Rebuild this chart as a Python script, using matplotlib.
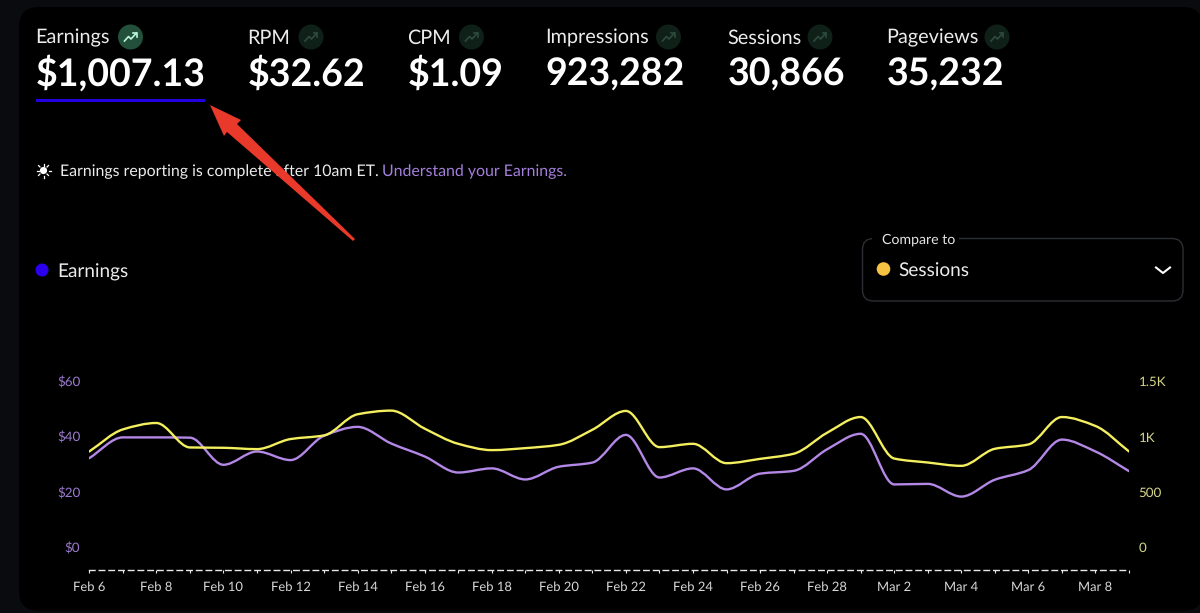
import matplotlib
matplotlib.use("Agg")
import matplotlib.pyplot as plt
from matplotlib.patches import Circle, FancyBboxPatch, PathPatch, Polygon, Rectangle
from matplotlib.path import Path
from matplotlib.transforms import ScaledTranslation
import numpy as np

plt.rcParams['font.family'] = ['Lato', 'Open Sans', 'DejaVu Sans']
plt.rcParams['text.hinting'] = 'none'

# tiles along the top
tile_names = ['Earnings', 'RPM', 'CPM', 'Impressions', 'Sessions', 'Pageviews']
tile_values = ['$1,007.13', '$32.62', '$1.09', '923,282', '30,866', '35,232']

# one point per day, Feb 6 to Mar 9
days = list(range(32))
earnings = [32.3, 39.8, 39.8, 39.7, 29.9, 34.7, 31.6, 40.4, 43.6, 37.6, 32.9, 27.1,
            28.6, 24.6, 29.2, 30.7, 40.7, 25.3, 28.6, 21.0, 26.7, 27.7, 35.5, 41.1,
            22.8, 23.0, 18.4, 24.5, 28.0, 39.0, 34.7, 27.6]
sessions = [868, 1067, 1125, 904, 901, 889, 980, 1013, 1204, 1237, 1074, 937,
            880, 898, 928, 1064, 1234, 907, 937, 762, 801, 847, 1037, 1179,
            804, 768, 738, 892, 931, 1179, 1098, 868]
date_labels = ['Feb 6', 'Feb 8', 'Feb 10', 'Feb 12', 'Feb 14', 'Feb 16', 'Feb 18', 'Feb 20',
               'Feb 22', 'Feb 24', 'Feb 26', 'Feb 28', 'Mar 2', 'Mar 4', 'Mar 6', 'Mar 8']
left_ticks = [0, 20, 40, 60]
left_labels = ['$0', '$20', '$40', '$60']
right_ticks = [0, 500, 1000, 1500]
right_labels = ['0', '500', '1K', '1.5K']


def smooth_path(x, y):
    # monotone cubic through the points, same look as the web chart
    x = np.array(x, dtype=float)
    y = np.array(y, dtype=float)
    d = np.diff(y) / np.diff(x)
    m = np.zeros(len(y))
    m[0] = d[0]
    m[-1] = d[-1]
    for i in range(1, len(y) - 1):
        if d[i - 1] * d[i] > 0:
            m[i] = 2 * d[i - 1] * d[i] / (d[i - 1] + d[i])
    verts = [(x[0], y[0])]
    codes = [Path.MOVETO]
    for i in range(len(x) - 1):
        h = (x[i + 1] - x[i]) / 3
        verts += [(x[i] + h, y[i] + m[i] * h), (x[i + 1] - h, y[i + 1] - m[i + 1] * h), (x[i + 1], y[i + 1])]
        codes += [Path.CURVE4] * 3
    return Path(verts, codes)


W, H = 1200, 613
fig = plt.figure(figsize=(12, 6.13), dpi=100, facecolor='#0a0b0e')

# overlay in pixel coords for the page bits
bg = fig.add_axes([0, 0, 1, 1])
bg.set_xlim(0, W)
bg.set_ylim(H, 0)
bg.axis('off')
bg.add_patch(FancyBboxPatch((19, 7), 1184, 604, boxstyle='round,pad=0,rounding_size=20', fc='black', ec='none'))

tile_x = [35.5, 247.5, 407.5, 545.5, 727.5, 886.5]
icon_x = [130.5, 311, 471.5, 668.5, 820, 997]
for i in range(6):
    bg.text(tile_x[i], 43.5, tile_names[i], color='#ececec', fontsize=14.3, va='baseline', ha='left')
    bg.text(tile_x[i], 86, tile_values[i], color='white', fontsize=27, fontweight='bold', va='baseline', ha='left')
    on = i == 0
    cx = icon_x[i]
    bg.add_patch(Circle((cx, 37), 12.5, fc='#23503b' if on else '#0f2019', ec='none'))
    ic = '#bdf5dc' if on else '#2f4a3e'
    bg.plot([cx - 6, cx - 2, cx + 0.5, cx + 6], [41, 36.5, 39, 33], color=ic, lw=1.2)
    bg.plot([cx + 2.5, cx + 6, cx + 6], [33, 33, 36.5], color=ic, lw=1.2)

bg.add_patch(Rectangle((36, 99), 169, 2.6, fc='#2200dd', ec='none'))

# sun icon
bg.add_patch(Circle((43.5, 170.5), 3.6, fc='white', ec='none'))
for a in np.arange(0, 360, 45):
    c, s = np.cos(np.radians(a)), np.sin(np.radians(a))
    bg.plot([43.5 + 5 * c, 43.5 + 7 * c], [170.5 + 5 * s, 170.5 + 7 * s], color='white', lw=0.9)

bg.text(60.5, 176, 'Earnings reporting is complete after 10am ET.', color='#ececec', fontsize=11.4, va='baseline')
bg.text(381.5, 176, 'Understand your Earnings.', color='#a47fdc', fontsize=11.4, va='baseline')

# legend
bg.add_patch(Circle((42, 270), 6.5, fc='#2a00ee', ec='none'))
bg.text(57.5, 278, 'Earnings', color='#ececec', fontsize=13.7, va='baseline')

# compare to box
bg.add_patch(FancyBboxPatch((862.5, 238.5), 320.5, 62.5, boxstyle='round,pad=0,rounding_size=11',
                            fc='black', ec='#2c2e33', lw=1))
bg.add_patch(Rectangle((872, 235), 87, 7, fc='black', ec='none'))
bg.text(882, 244, 'Compare to', color='#e4e4e4', fontsize=10.2, va='baseline')
bg.add_patch(Circle((883.5, 269), 6.8, fc='#f5c242', ec='none'))
bg.text(898.5, 276.5, 'Sessions', color='#ececec', fontsize=13.7, va='baseline')
bg.plot([1156, 1163, 1170], [267.5, 273, 267.5], color='white', lw=1.5)

# chart axes, Feb 6 at px 89.3, Mar 9 at px 1129, $60 at 381.5, baseline at 570
ax = fig.add_axes([89.3 / W, 1 - 570 / H, (1129 - 89.3) / W, (570 - 381.5) / H])
ax.patch.set_alpha(0)
ax.set_xlim(0, 31)
ax.set_ylim(-8.13, 60)
ax2 = ax.twinx()
ax2.set_ylim(-8.13 * 25, 1500)

ax.add_patch(PathPatch(smooth_path(days, earnings), fc='none', ec='#b488e6', lw=1.7, capstyle='round'))
ax2.add_patch(PathPatch(smooth_path(days, sessions), fc='none', ec='#f4ef5e', lw=1.7, capstyle='round'))

for s in ['top', 'left', 'right']:
    ax.spines[s].set_visible(False)
    ax2.spines[s].set_visible(False)
ax2.spines['bottom'].set_visible(False)
ax.spines['bottom'].set_color('#e8e8e8')
ax.spines['bottom'].set_linewidth(1)
ax.spines['bottom'].set_linestyle((0, (4, 3)))

ax.set_xticks(days)
ax.set_xticklabels([date_labels[i // 2] if i % 2 == 0 else '' for i in days], color='#d8d8d8', fontsize=9.4)
ax.tick_params(axis='x', length=2.5, width=0.8, color='#e8e8e8', pad=5.5)
ax.set_yticks(left_ticks)
ax.set_yticklabels(left_labels, color='#9d7bd0', fontsize=9.6, va='center')
ax.tick_params(axis='y', length=0, pad=6.5)
ax2.set_yticks(right_ticks)
ax2.set_yticklabels(right_labels, color='#d6d68a', fontsize=9.6, va='center')
ax2.tick_params(axis='y', length=0, pad=7)

# nudge value labels down a bit
nudge = ScaledTranslation(0, -0.012, fig.dpi_scale_trans)
for lab in ax.get_yticklabels() + ax2.get_yticklabels():
    lab.set_transform(lab.get_transform() + nudge)

# red arrow on top of everything
top = fig.add_axes([0, 0, 1, 1])
top.set_xlim(0, W)
top.set_ylim(H, 0)
top.axis('off')
top.patch.set_alpha(0)
top.add_patch(Polygon([(210, 105), (241, 120), (237, 124), (355, 239), (353, 241), (227, 132), (224, 136)],
                      closed=True, fc='#e8392b', ec='none'))

fig.savefig('out.png', dpi=100, facecolor=fig.get_facecolor())
